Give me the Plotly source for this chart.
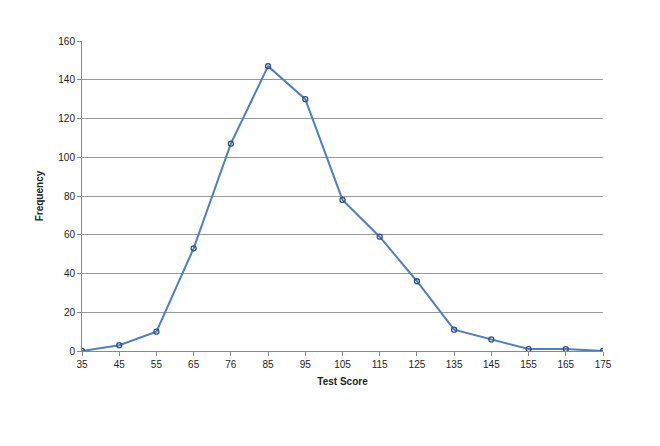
import plotly.graph_objects as go

scores = ["35","45","55","65","76","85","95","105","115","125","135","145","155","165","175"]
freq = [0,3,10,53,107,147,130,78,59,36,11,6,1,1,0]

fig = go.Figure(go.Scatter(
    x=list(range(len(scores))), y=freq, mode="lines+markers",
    line=dict(color="#4f7fbf", width=2),
    marker=dict(symbol="circle-open", size=5, color="#2f4f7f", line=dict(width=1.3)),
))
fig.update_layout(
    width=660, height=446, plot_bgcolor="white", paper_bgcolor="white",
    margin=dict(l=74, r=65, t=33, b=103), showlegend=False,
    font=dict(family="Liberation Sans, Arial", size=10, color="#222"),
)
fig.update_xaxes(range=[0,14], tickvals=list(range(len(scores))), ticktext=scores,
                 showgrid=False, showline=True, linecolor="#888", ticks="outside", ticklen=4,
                 tickcolor="#888",
                 title=dict(text="<b>Test Score</b>", font=dict(size=10), standoff=8))
fig.update_yaxes(range=[0,160], dtick=20, showgrid=True, gridcolor="#999", gridwidth=1,
                 showline=True, linecolor="#888", ticks="outside", ticklen=4, tickcolor="#888",
                 zeroline=False,
                 title=dict(text="<b>Frequency</b>", font=dict(size=10), standoff=12))
fig.write_html("out.html")
